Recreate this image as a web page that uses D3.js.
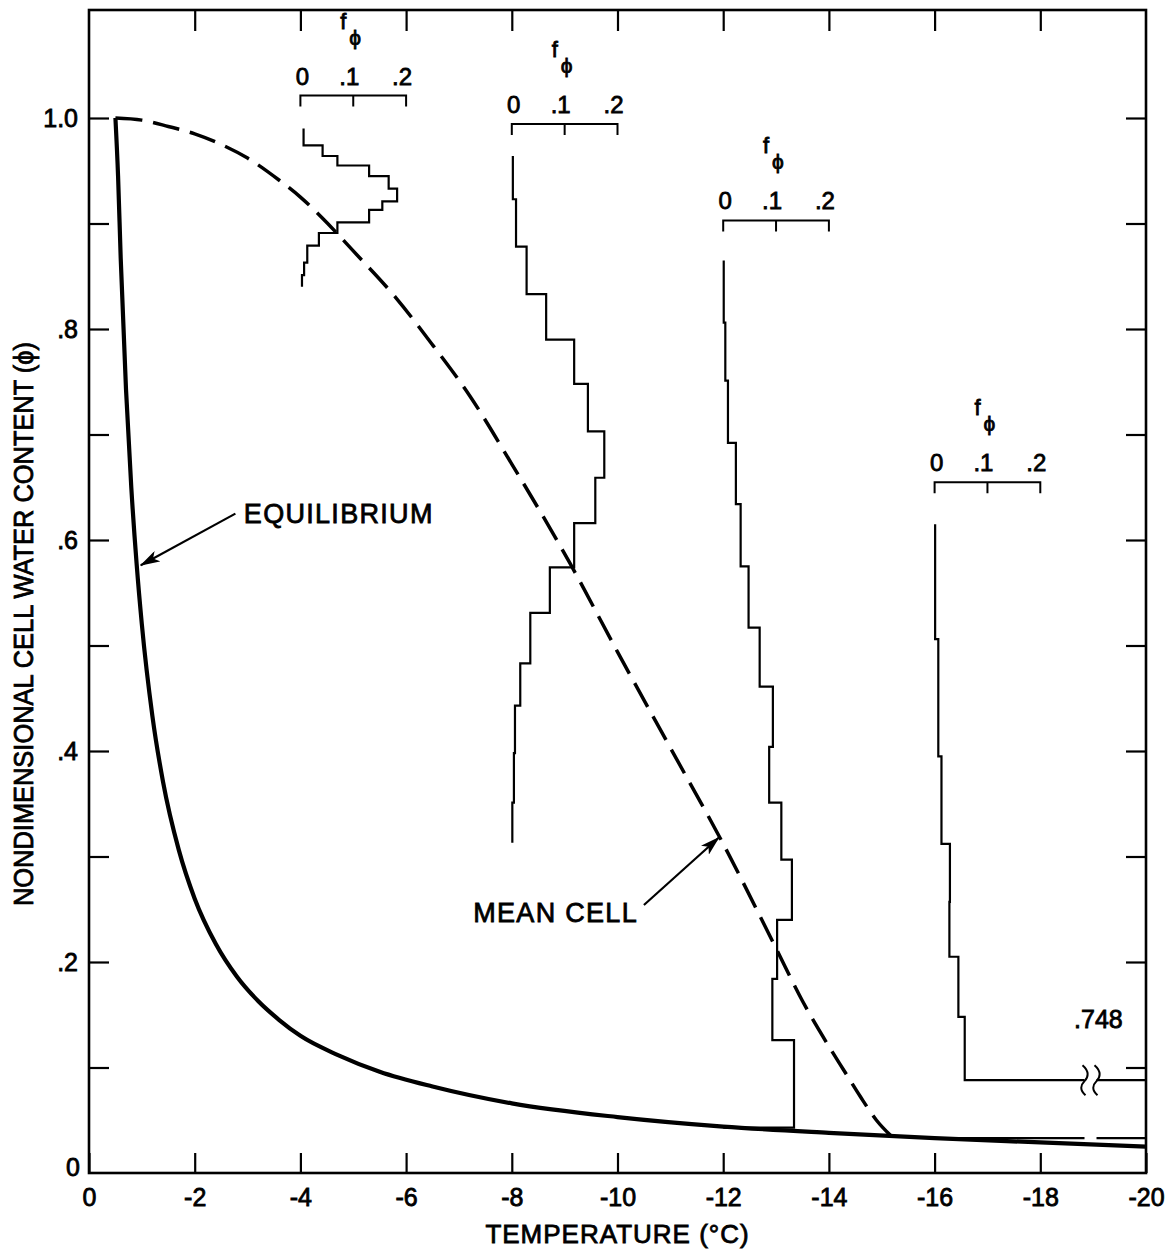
<!DOCTYPE html>
<html>
<head>
<meta charset="utf-8">
<script src="https://cdn.jsdelivr.net/npm/d3@7"></script>
<style>
  body { margin: 0; background: #fff; }
  text { font-family: "Liberation Sans", Arial, "DejaVu Sans", sans-serif; fill: #000; }
  .heavy { stroke: #000; stroke-width: 0.8px; }
</style>
</head>
<body>
<div id="chart"></div>
<script>
// Page size and plot frame
const width = 1176;
const height = 1259;
const margin = { top: 10, right: 30, bottom: 86, left: 89 };
const plotRight = width - margin.right;
const plotBottom = height - margin.bottom;

// Axis ticks
const xTickValues = [0, -2, -4, -6, -8, -10, -12, -14, -16, -18, -20];
const yTickValues = [0, 0.1, 0.2, 0.3, 0.4, 0.5, 0.6, 0.7, 0.8, 0.9, 1.0];
const yLabelValues = [0, 0.2, 0.4, 0.6, 0.8, 1.0];
const fTickValues = [0, 0.1, 0.2];

// Equilibrium curve (temperature, phi)
const eqTemp = [-0.5, -0.55, -0.6, -0.7, -0.8, -0.9, -1.0, -1.2, -1.4, -1.7, -2.0, -2.4, -2.8, -3.2, -3.6,
  -4.0, -4.7, -5.5, -6.5, -8.0, -10.0, -12.0, -14.0, -16.0, -18.0, -20.0];
const eqPhi = [1.0, 0.945, 0.867, 0.743, 0.65, 0.578, 0.52, 0.433, 0.371, 0.306, 0.26, 0.217, 0.186, 0.163, 0.145,
  0.13, 0.112, 0.096, 0.082, 0.066, 0.053, 0.044, 0.038, 0.033, 0.029, 0.025];

// Mean cell curve (temperature, phi)
const meanTemp = [-0.5, -1.0, -1.5, -2.0, -2.5, -3.0, -3.6, -4.0, -4.4, -5.0, -5.8, -6.5, -7.2, -8.0, -9.1,
  -10.0, -11.0, -12.0, -13.0, -13.5, -14.0, -14.3, -14.6, -14.9, -15.2];
const meanPhi = [1.0, 0.998, 0.992, 0.985, 0.975, 0.962, 0.941, 0.925, 0.906, 0.874, 0.83, 0.785, 0.737, 0.672, 0.578,
  0.494, 0.403, 0.312, 0.213, 0.163, 0.12, 0.096, 0.072, 0.05, 0.034];

// Distributions f_phi at four temperatures: bin edges in phi (top to bottom) and frequencies
const histTemp = [-4, -8, -12, -16];
const hist1Edges = [0.990, 0.974, 0.964, 0.955, 0.945, 0.933, 0.921, 0.913, 0.901, 0.891, 0.879, 0.863, 0.851, 0.840];
const hist1Freq = [0.006, 0.042, 0.070, 0.130, 0.167, 0.183, 0.155, 0.130, 0.070, 0.035, 0.013, 0.007, 0.003];
const hist2Edges = [0.964, 0.923, 0.878, 0.833, 0.790, 0.748, 0.703, 0.659, 0.616, 0.574, 0.531, 0.483, 0.443, 0.398, 0.351, 0.313];
const hist2Freq = [0.002, 0.008, 0.028, 0.065, 0.118, 0.144, 0.175, 0.158, 0.118, 0.072, 0.035, 0.016, 0.006, 0.004, 0.001];
const hist3Edges = [0.865, 0.806, 0.751, 0.692, 0.634, 0.575, 0.517, 0.461, 0.404, 0.351, 0.297, 0.240, 0.184, 0.126, 0.043];
const hist3Freq = [0.001, 0.004, 0.009, 0.024, 0.033, 0.048, 0.069, 0.094, 0.087, 0.110, 0.130, 0.102, 0.093, 0.134];
const hist4Edges = [0.615, 0.506, 0.395, 0.312, 0.257, 0.205, 0.148, 0.088, 0.033];
const hist4Freq = [0.001, 0.007, 0.013, 0.029, 0.028, 0.045, 0.057, 0.748];

const hists = [
  { temp: histTemp[0], edges: hist1Edges, freq: hist1Freq, close: false, lift: 33 },
  { temp: histTemp[1], edges: hist2Edges, freq: hist2Freq, close: false, lift: 32 },
  { temp: histTemp[2], edges: hist3Edges, freq: hist3Freq, close: true, lift: 40 },
  { temp: histTemp[3], edges: hist4Edges, freq: hist4Freq, close: true, lift: 42 }
];

// Scales
const xScale = d3.scaleLinear().domain([0, -20]).range([margin.left, plotRight]);
const yScale = d3.scaleLinear().domain([0, 1]).range([plotBottom, 118]);
// frequency 0.2 spans two degrees of the temperature axis
const fScale = d3.scaleLinear().domain([0, 0.2]).range([0, xScale(-2) - xScale(0)]);

const svg = d3.select("#chart").append("svg")
  .attr("width", width)
  .attr("height", height);

svg.append("rect").attr("width", width).attr("height", height).attr("fill", "#fff");

const defs = svg.append("defs");
defs.append("clipPath").attr("id", "plotClip")
  .append("rect")
  .attr("x", margin.left).attr("y", margin.top)
  .attr("width", plotRight - margin.left).attr("height", plotBottom - margin.top);
defs.append("marker")
  .attr("id", "arrow")
  .attr("viewBox", "0 0 20 12")
  .attr("refX", 19).attr("refY", 6)
  .attr("markerWidth", 20).attr("markerHeight", 12)
  .attr("markerUnits", "userSpaceOnUse")
  .attr("orient", "auto")
  .append("path")
  .attr("d", "M0,0 L20,6 L0,12 L5,6 Z")
  .attr("fill", "#000");

// Axes (ticks point inwards on all four sides)
function styleAxis(g) {
  g.select(".domain").remove();
  g.selectAll(".tick line").attr("stroke", "#000").attr("stroke-width", 2.2);
  g.selectAll(".tick text").attr("font-size", 25).attr("class", "heavy").attr("fill", "#000");
}

svg.append("g")
  .attr("transform", `translate(0,${plotBottom})`)
  .call(d3.axisBottom(xScale).tickValues(xTickValues).tickSizeInner(-20).tickSizeOuter(0)
    .tickPadding(15).tickFormat(d => String(d)))
  .call(styleAxis);

svg.append("g")
  .attr("transform", `translate(0,${margin.top})`)
  .call(d3.axisTop(xScale).tickValues(xTickValues.slice(1, -1)).tickSizeInner(-21).tickSizeOuter(0)
    .tickFormat(""))
  .call(styleAxis);

const fmtY = d => d === 0 ? "0" : d === 1 ? "1.0" : d3.format(".1f")(d).replace(/^0/, "");
svg.append("g")
  .attr("transform", `translate(${margin.left},0)`)
  .call(d3.axisLeft(yScale).tickValues(yTickValues.slice(1)).tickSizeInner(-20).tickSizeOuter(0)
    .tickPadding(11).tickFormat(d => yLabelValues.some(v => Math.abs(v - d) < 1e-9) ? fmtY(d) : ""))
  .call(styleAxis);

svg.append("text")
  .attr("class", "heavy")
  .attr("x", margin.left - 9)
  .attr("y", yScale(0) - 5)
  .attr("dy", "0.32em")
  .attr("text-anchor", "end")
  .attr("font-size", 25)
  .text(fmtY(0));

svg.append("g")
  .attr("transform", `translate(${plotRight},0)`)
  .call(d3.axisRight(yScale).tickValues(yTickValues.slice(1)).tickSizeInner(-20).tickSizeOuter(0)
    .tickFormat(""))
  .call(styleAxis);

// Frame
svg.append("rect")
  .attr("x", margin.left).attr("y", margin.top)
  .attr("width", plotRight - margin.left).attr("height", plotBottom - margin.top)
  .attr("fill", "none").attr("stroke", "#000").attr("stroke-width", 2.6);

// Axis titles
svg.append("text")
  .attr("class", "heavy")
  .attr("transform", `translate(33,${624}) rotate(-90)`)
  .attr("text-anchor", "middle")
  .attr("font-size", 27)
  .attr("textLength", 564)
  .attr("lengthAdjust", "spacingAndGlyphs")
  .text("NONDIMENSIONAL CELL WATER CONTENT (\u03d5)");

svg.append("text")
  .attr("class", "heavy")
  .attr("x", (margin.left + plotRight) / 2)
  .attr("y", 1243)
  .attr("text-anchor", "middle")
  .attr("font-size", 26)
  .attr("letter-spacing", 1)
  .text("TEMPERATURE (\u00b0C)");

// Histograms
const plot = svg.append("g").attr("clip-path", "url(#plotClip)");
const histLine = d3.line().x(p => p[0]).y(p => p[1]);

hists.forEach(h => {
  const x0 = xScale(h.temp);
  const pts = [];
  h.freq.forEach((f, i) => {
    pts.push([x0 + fScale(f), yScale(h.edges[i])]);
    pts.push([x0 + fScale(f), yScale(h.edges[i + 1])]);
  });
  if (h.close) pts.push([x0, yScale(h.edges[h.edges.length - 1])]);
  plot.append("path")
    .attr("d", histLine(pts))
    .attr("fill", "none")
    .attr("stroke", "#000")
    .attr("stroke-width", 2.2)
    .attr("stroke-linejoin", "miter");

  // f_phi scale bracket
  const yb = yScale(h.edges[0]) - h.lift;
  const xs = fTickValues.map(v => x0 + fScale(v));
  svg.append("path")
    .attr("d", `M${xs[0]},${yb + 11}V${yb}H${xs[2]}V${yb + 11}M${xs[1]},${yb}V${yb + 11}`)
    .attr("fill", "none").attr("stroke", "#000").attr("stroke-width", 2);
  fTickValues.forEach((v, i) => {
    svg.append("text")
      .attr("class", "heavy")
      .attr("x", i === 0 ? xs[i] + 2 : xs[i] + 6)
      .attr("y", yb - 11)
      .attr("text-anchor", i === 0 ? "middle" : "end")
      .attr("font-size", 24)
      .text(v === 0 ? "0" : d3.format(".1f")(v).replace(/^0/, ""));
  });
  svg.append("text")
    .attr("class", "heavy")
    .attr("x", xs[1] - 13)
    .attr("y", yb - 67)
    .attr("font-size", 22)
    .text("f");
  svg.append("text")
    .attr("class", "heavy")
    .attr("x", xs[1] - 4)
    .attr("y", yb - 51)
    .attr("font-size", 21)
    .attr("font-family", "DejaVu Sans, sans-serif")
    .text("\u03d5");

  // broken bar when the frequency runs off the plot
  h.freq.forEach((f, i) => {
    if (x0 + fScale(f) <= plotRight) return;
    const xb = xScale(-18.95);
    [h.edges[i], h.edges[i + 1]].forEach(e => {
      svg.append("line")
        .attr("x1", xb - 6).attr("x2", xb + 6)
        .attr("y1", yScale(e)).attr("y2", yScale(e))
        .attr("stroke", "#fff").attr("stroke-width", 4);
    });
    const yc = yScale(h.edges[i]);
    [-6, 6].forEach(dx => {
      const x = xb + dx;
      svg.append("path")
        .attr("d", `M${x - 2},${yc - 15} C${x + 5},${yc - 9} ${x + 4},${yc - 3} ${x},${yc + 1} S${x - 5},${yc + 10} ${x + 1},${yc + 15}`)
        .attr("fill", "none").attr("stroke", "#000").attr("stroke-width", 2);
    });
    svg.append("text")
      .attr("class", "heavy")
      .attr("x", xScale(-19.1))
      .attr("y", yc - 52)
      .attr("text-anchor", "middle")
      .attr("font-size", 25)
      .text(d3.format(".3f")(f).replace(/^0/, ""));
  });
});

// Curves
const curveLine = d3.line()
  .x(d => xScale(d[0]))
  .y(d => yScale(d[1]))
  .curve(d3.curveMonotoneX);

plot.append("path")
  .attr("d", curveLine(d3.zip(meanTemp, meanPhi)))
  .attr("fill", "none")
  .attr("stroke", "#000")
  .attr("stroke-width", 3.5)
  .attr("stroke-dasharray", "27,11");

plot.append("path")
  .attr("d", curveLine(d3.zip(eqTemp, eqPhi)))
  .attr("fill", "none")
  .attr("stroke", "#000")
  .attr("stroke-width", 4.2);

// Annotations
function annotate(label, textAt, tail, tip) {
  svg.append("text")
    .attr("class", "heavy")
    .attr("x", xScale(textAt[0]))
    .attr("y", yScale(textAt[1]))
    .attr("font-size", 27)
    .attr("letter-spacing", 1.3)
    .text(label);
  svg.append("line")
    .attr("x1", xScale(tail[0])).attr("y1", yScale(tail[1]))
    .attr("x2", xScale(tip[0])).attr("y2", yScale(tip[1]))
    .attr("stroke", "#000").attr("stroke-width", 2.2)
    .attr("marker-end", "url(#arrow)");
}

annotate("EQUILIBRIUM", [-2.93, 0.616], [-2.77, 0.625], [-0.98, 0.576]);
annotate("MEAN CELL", [-7.27, 0.238], [-10.5, 0.254], [-11.92, 0.318]);
</script>
</body>
</html>
